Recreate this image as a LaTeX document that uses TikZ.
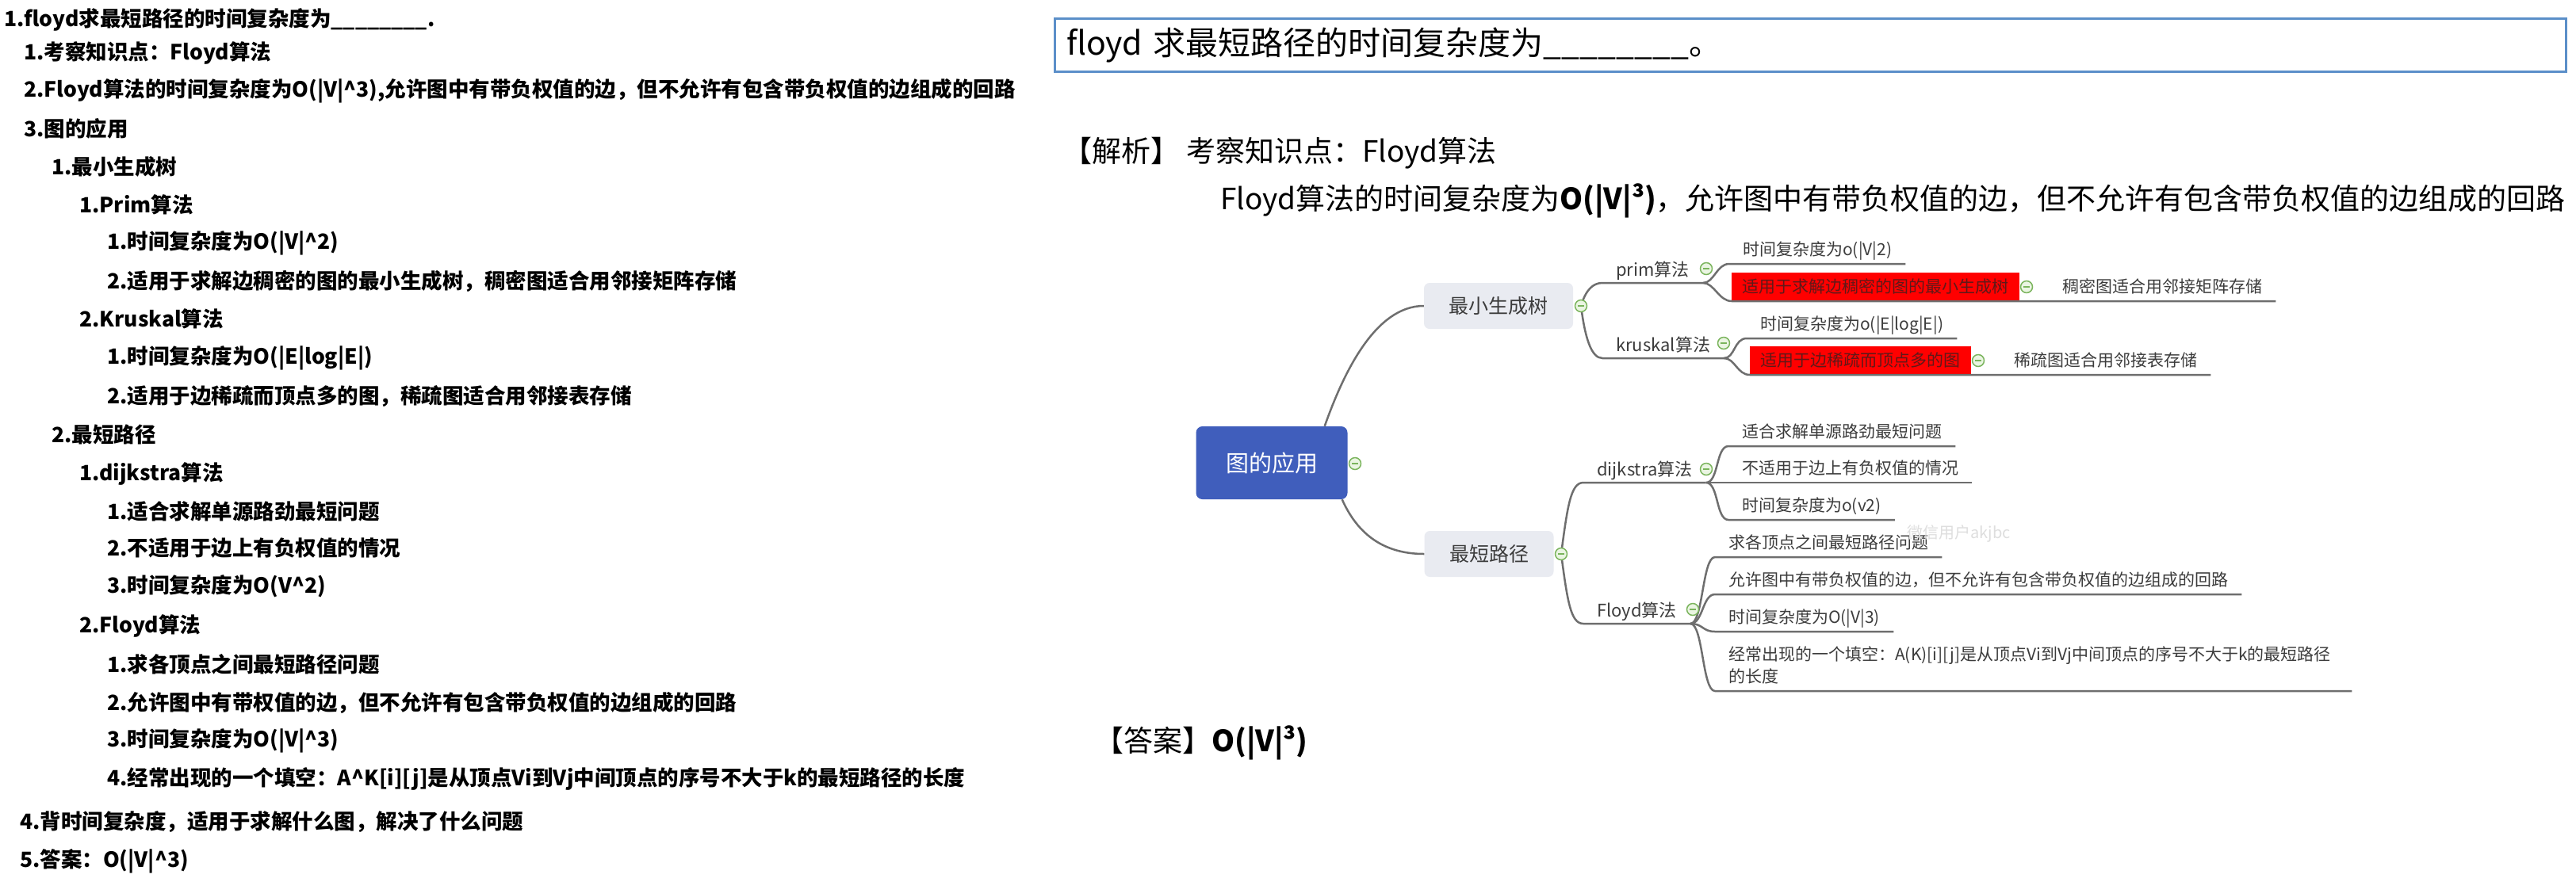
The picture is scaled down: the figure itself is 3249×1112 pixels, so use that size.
\documentclass[tikz,border=0pt]{standalone}
\usepackage{fontspec}
\setmainfont{Noto Sans CJK SC}
\definecolor{qblue}{RGB}{91,143,201}
\definecolor{rootblue}{RGB}{64,94,188}
\definecolor{topicgrey}{RGB}{233,235,241}
\definecolor{linegrey}{RGB}{110,110,110}
\definecolor{txtgrey}{RGB}{60,60,60}
\definecolor{foldgreen}{RGB}{122,180,92}
\definecolor{foldfill}{RGB}{234,245,226}
\definecolor{hotred}{RGB}{255,0,0}
\definecolor{hottext}{RGB}{95,25,25}

\begin{document}
\begin{tikzpicture}[x=1pt,y=-1pt,
  item/.style={anchor=west,inner sep=0pt,font=\fontsize{26.5}{30}\selectfont\bfseries},
  note/.style={anchor=west,inner sep=0pt,font=\fontsize{37}{44}\selectfont},
  qbox/.style={anchor=west,draw=qblue,line width=3pt,fill=white,outer sep=0pt,text width=1876pt,
    inner xsep=15pt,minimum height=67pt,align=left,font=\fontsize{41}{48}\selectfont},
  root/.style={fill=rootblue,text=white,rounded corners=8pt,minimum width=191pt,minimum height=92pt,
    font=\fontsize{29}{34}\selectfont},
  topic/.style={fill=topicgrey,text=txtgrey,rounded corners=7pt,minimum height=58pt,
    font=\fontsize{25}{30}\selectfont},
  sub/.style={anchor=south west,text=txtgrey,inner xsep=17pt,inner ysep=4pt,text depth=4pt,
    font=\fontsize{22}{26}\selectfont},
  leaf/.style={anchor=south west,text=txtgrey,inner xsep=17pt,inner ysep=6pt,text depth=4pt,
    font=\fontsize{21}{28}\selectfont},
  hot/.style={anchor=south west,fill=hotred,text=hottext,inner xsep=13.5pt,inner ysep=0pt,
    minimum height=36pt,font=\fontsize{21}{28}\selectfont},
  branch/.style={draw=linegrey,line width=2.5pt},
  fold/.style={circle,draw=foldgreen,fill=foldfill,line width=1.5pt,minimum size=15pt,inner sep=0pt,
    path picture={\draw[foldgreen,line width=1.5pt] ([xshift=-4pt]path picture bounding box.center)
      -- ([xshift=4pt]path picture bounding box.center);}}]
\useasboundingbox (0,0) rectangle (3249,1112);
\fill[white] (0,0) rectangle (3249,1112);

% notes on the left
\foreach \i/\x/\y/\t in {
  1/5/25/{1.floyd求最短路径的时间复杂度为\_\_\_\_\_\_\_\_.},
  2/30/67/{1.考察知识点：Floyd算法},
  3/30/115/{2.Floyd算法的时间复杂度为O(|V|\textasciicircum3),允许图中有带负权值的边，但不允许有包含带负权值的边组成的回路},
  4/30/162/{3.图的应用},
  5/65/210/{1.最小生成树},
  6/100/258/{1.Prim算法},
  7/135/307/{1.时间复杂度为O(|V|\textasciicircum2)},
  8/135/355/{2.适用于求解边稠密的图的最小生成树，稠密图适合用邻接矩阵存储},
  9/100/402/{2.Kruskal算法},
  10/135/452/{1.时间复杂度为O(|E|log|E|)},
  11/135/500/{2.适用于边稀疏而顶点多的图，稀疏图适合用邻接表存储},
  12/65/548/{2.最短路径},
  13/100/598/{1.dijkstra算法},
  14/135/645/{1.适合求解单源路劲最短问题},
  15/135/692/{2.不适用于边上有负权值的情况},
  16/135/740/{3.时间复杂度为O(V\textasciicircum2)},
  17/100/790/{2.Floyd算法},
  18/135/838/{1.求各顶点之间最短路径问题},
  19/135/887/{2.允许图中有带权值的边，但不允许有包含带负权值的边组成的回路},
  20/135/935/{3.时间复杂度为O(|V|\textasciicircum3)},
  21/135/983/{4.经常出现的一个填空：A\textasciicircum K[i][j]是从顶点Vi到Vj中间顶点的序号不大于k的最短路径的长度},
  22/25/1037/{4.背时间复杂度，适用于求解什么图，解决了什么问题},
  23/25/1087/{5.答案：O(|V|\textasciicircum3)}}
  \node[item] (l\i) at (\x,\y) {\t};

% question and answer
\node[qbox] (q) at (1330,57) {floyd 求最短路径的时间复杂度为\_\_\_\_\_\_\_\_。};
\node[note] (jx) at (1340,193) {【解析】 考察知识点：Floyd算法};
\node[note] (jx2) at (1539,253) {Floyd算法的时间复杂度为\textbf{O(|V|³)}，允许图中有带负权值的边，但不允许有包含带负权值的边组成的回路};
\node[note] (da) at (1380,937) {【答案】\textbf{O(|V|³)}};

% mind map
\node[root] (app) at (1604,584) {图的应用};
\node[topic,minimum width=188pt] (mst) at (1890,386) {最小生成树};
\node[topic,minimum width=163pt] (sp) at (1878,699) {最短路径};
\coordinate (k-app) at (1709,585);
\coordinate (k-mst) at (1994,386);
\coordinate (k-sp) at (1969,699);
\draw[branch] ([xshift=-29pt]app.north east) .. controls +(24,-68) and +(-61,0) .. (mst.west);
\draw[branch] ([xshift=-7pt]app.south east) .. controls +(20,45) and +(-50,0) .. (sp.west);

\node[sub] (prim) at (2021,357) {prim算法};
\node[sub] (krus) at (2021,452) {kruskal算法};
\draw[branch] (k-mst) .. controls +(6,-20) and +(-12,0) .. (prim.south west) -- (prim.south east);
\draw[branch] (k-mst) .. controls +(5,40) and +(-14,0) .. (krus.south west) -- (krus.south east);
\node[leaf] (p1) at (2181,333) {时间复杂度为o(|V|2)};
\node[hot] (p2) at (2184,380) {适用于求解边稠密的图的最小生成树};
\node[leaf] (p3) at (2584,380) {稠密图适合用邻接矩阵存储};
\draw[branch] (prim.south east) .. controls +(14,0) and +(-16,0) .. (p1.south west) -- (p1.south east);
\draw[branch] (prim.south east) .. controls +(14,0) and +(-16,0) .. (p2.south west) -- (p3.south east);
\node[leaf] (k1) at (2203,427) {时间复杂度为o(|E|log|E|)};
\node[hot] (k2) at (2207,473) {适用于边稀疏而顶点多的图};
\node[leaf] (k3) at (2523,473) {稀疏图适合用邻接表存储};
\draw[branch] (krus.south east) .. controls +(14,0) and +(-16,0) .. (k1.south west) -- (k1.south east);
\draw[branch] (krus.south east) .. controls +(14,0) and +(-16,0) .. (k2.south west) -- (k3.south east);

\node[sub] (dij) at (1997,609) {dijkstra算法};
\node[sub] (flo) at (1997,787) {Floyd算法};
\draw[branch] (k-sp) .. controls +(8,-60) and +(-16,0) .. (dij.south west) -- (dij.south east);
\draw[branch] (k-sp) .. controls +(8,60) and +(-16,0) .. (flo.south west) -- (flo.south east);
\node[leaf] (d1) at (2180,563) {适合求解单源路劲最短问题};
\node[leaf] (d2) at (2180,609) {不适用于边上有负权值的情况};
\node[leaf] (d3) at (2180,656) {时间复杂度为o(v2)};
\draw[branch] (dij.south east) .. controls +(16,0) and +(-16,0) .. (d1.south west) -- (d1.south east);
\draw[branch] (dij.south east) -- (d2.south west) -- (d2.south east);
\draw[branch] (dij.south east) .. controls +(16,0) and +(-16,0) .. (d3.south west) -- (d3.south east);
\node[leaf] (f1) at (2163,703) {求各顶点之间最短路径问题};
\node[leaf] (f2) at (2163,750) {允许图中有带负权值的边，但不允许有包含带负权值的边组成的回路};
\node[leaf] (f3) at (2163,797) {时间复杂度为O(|V|3)};
\node[leaf,align=left,text width=769pt] (f4) at (2163,844) {经常出现的一个填空：A(K)[i][j]是从顶点Vi到Vj中间顶点的序号不大于k的最短路径\\的长度};
\foreach \j in {1,...,3}
  \draw[branch] (flo.south east) .. controls +(16,0) and +(-16,0) .. (f\j.south west) -- (f\j.south east);
\draw[branch] (flo.south east) .. controls +(16,0) and +(-16,0) .. ([yshift=-28pt]f4.south west) -- ([yshift=-28pt]f4.south east);

\node[anchor=west,text=black!13,font=\fontsize{20}{24}\selectfont] (mark) at (2402,673) {微信用户akjbc};

% fold buttons
\node[fold] (f-app) at (k-app) {};
\node[fold] (f-mst) at (k-mst) {};
\node[fold] (f-sp) at (k-sp) {};
\node[fold] (f-prim) at (2152,339) {};
\node[fold] (f-krus) at (2174,433) {};
\node[fold] (f-dij) at (2152,592) {};
\node[fold] (f-flo) at (2135,769) {};
\node[fold] (f-p2) at (2556,362) {};
\node[fold] (f-k2) at (2495,455) {};
\end{tikzpicture}
\end{document}
